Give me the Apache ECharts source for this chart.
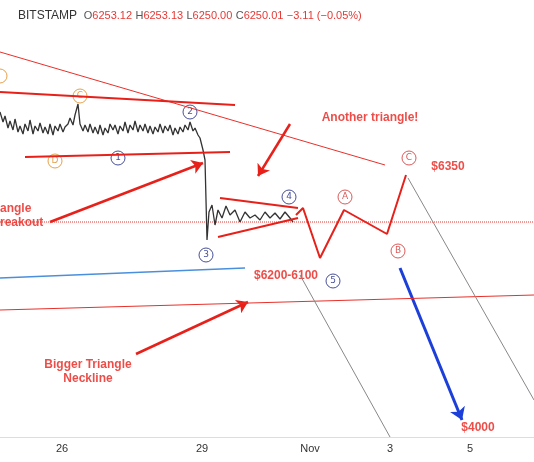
<!DOCTYPE html><html><head><meta charset="utf-8">
<script src="https://cdn.jsdelivr.net/npm/echarts@6/dist/echarts.min.js"></script>
<style>html,body{margin:0;padding:0;background:#fff}#c{width:534px;height:462px}</style></head><body><div id="c"></div>
<script>
// chart units: x = horizontal position, y = vertical level (top = 0)
const tickValues=[62,202,310,390,470];
const tickLabels=['26','29','Nov','3','5'];
const price=[[0,112],[3,122],[5,116],[8,128],[10,121],[13,130],[15,119],[18,132],[20,126],[23,134],[25,124],[28,131],[30,120],[33,134],[35,126],[38,131],[40,123],[43,133],[45,127],[48,134],[50,124],[53,135],[55,126],[58,131],[60,124],[63,132],[65,127],[68,124],[70,118],[73,125],[75,115],[78,104],[80,124],[83,131],[85,125],[88,132],[90,124],[93,133],[95,127],[98,134],[100,125],[103,135],[105,128],[108,133],[110,124],[113,130],[115,125],[118,134],[120,126],[123,131],[125,122],[128,133],[130,125],[133,130],[135,121],[138,132],[140,125],[143,131],[145,124],[148,133],[150,126],[153,134],[155,127],[158,132],[160,124],[163,133],[165,126],[168,131],[170,125],[173,135],[175,128],[178,134],[180,127],[183,132],[185,125],[188,130],[190,122],[193,131],[195,128],[198,135],[200,138],[203,150],[205,160],[206,200],[207,240],[209,212],[212,205],[215,225],[218,210],[222,218],[226,206],[230,215],[235,210],[240,222],[245,212],[250,218],[255,215],[260,220],[265,212],[270,218],[275,213],[280,219],[285,212],[290,218],[293,222]];
const thickRed=[
 [[0,92],[235,105]],
 [[25,157],[230,152]],
 [[220,198],[298,208]],
 [[218,237],[298,218]],
 [[296,215],[303,208],[320,258],[344,210],[387,234],[406,175]]
];
const thinRed=[[[0,52],[385,165]],[[0,310],[534,295]]];
const blueLine=[[0,278],[245,268]];
const grayLines=[[[300,275],[390,437]],[[408,178],[534,400]]];
const redArrows=[[[50,222],[203,163]],[[136,354],[248,302]],[[290,124],[258,176]]];
const blueArrow=[[400,268],[462,420]];
const waveNavy=[[118,158,'1'],[190,112,'2'],[206,255,'3'],[289,197,'4'],[333,281,'5']];
const waveOrange=[[80,96,'C'],[55,161,'D'],[0,76,'']];
const waveRed=[[345,197,'A'],[398,251,'B'],[409,158,'C']];
const notes=[[370,118,'Another triangle!'],[448,167,'$6350'],[286,276,'$6200-6100'],[88,372,'Bigger Triangle\nNeckline'],[478,428,'$4000']];
const series=[];
thinRed.forEach(d=>series.push({type:'line',data:d,symbol:'none',lineStyle:{color:'#e8302a',width:1},silent:true}));
series.push({type:'line',data:[[0,222],[534,222]],symbol:'none',lineStyle:{color:'#e8302a',width:1,type:'dotted'}});
series.push({type:'line',data:blueLine,symbol:'none',lineStyle:{color:'#4a8fdc',width:1.5}});
grayLines.forEach(d=>series.push({type:'line',data:d,symbol:'none',lineStyle:{color:'#888',width:1}}));
series.push({type:'line',data:price,symbol:'none',lineStyle:{color:'#333',width:1.3}});
thickRed.forEach(d=>series.push({type:'line',data:d,symbol:'none',lineStyle:{color:'#e8201a',width:2}}));
series.push({type:'lines',coordinateSystem:'cartesian2d',symbol:['none','arrow'],symbolSize:11,
 data:redArrows.map(c=>({coords:c})),lineStyle:{color:'#e8201a',width:2.5,opacity:1}});
series.push({type:'lines',coordinateSystem:'cartesian2d',symbol:['none','arrow'],symbolSize:12,
 data:[{coords:blueArrow}],lineStyle:{color:'#1b3fd8',width:3,opacity:1}});
function circles(arr,color){series.push({type:'scatter',data:arr,symbol:'circle',symbolSize:14,
 itemStyle:{color:'#fff',borderColor:color,borderWidth:1},
 label:{show:true,position:'inside',formatter:p=>p.data[2],color:color,fontSize:9,fontFamily:'DejaVu Sans'}});}
circles(waveNavy,'#1a237e');circles(waveOrange,'#e08a1e');circles(waveRed,'#d32f2f');
series.push({type:'scatter',data:notes,symbolSize:0,label:{show:true,position:'inside',formatter:p=>p.data[2],
 color:'#e8201a',fontWeight:'bold',fontSize:12,fontFamily:'Liberation Sans',lineHeight:14}});
series.push({type:'scatter',data:[[0,216,'angle\nreakout']],symbolSize:0,label:{show:true,position:'right',distance:0,
 formatter:p=>p.data[2],color:'#e8201a',fontWeight:'bold',fontSize:12,fontFamily:'Liberation Sans',lineHeight:14,backgroundColor:'#fff'}});
const chart=echarts.init(document.getElementById('c'));
chart.setOption({animation:false,
 grid:{left:0,right:0,top:0,bottom:25},
 xAxis:{type:'value',min:0,max:534,position:'bottom',splitLine:{show:false},axisLine:{onZero:false,lineStyle:{color:'#ddd'}},axisTick:{show:false},
  axisLabel:{customValues:tickValues,formatter:v=>tickLabels[tickValues.indexOf(v)]||'',color:'#333',fontSize:11,margin:6}},
 yAxis:{type:'value',min:0,max:437,inverse:true,show:false,splitLine:{show:false}},
 graphic:[{type:'text',left:18,top:10,style:{text:'{b|BITSTAMP}  {g|O}{r|6253.12} {g|H}{r|6253.13} {g|L}{r|6250.00} {g|C}{r|6250.01} {r|−3.11 (−0.05%)}',
  rich:{b:{fill:'#333',fontSize:12,fontFamily:'Liberation Sans'},g:{fill:'#555',fontSize:11,fontFamily:'Liberation Sans'},r:{fill:'#e53935',fontSize:11,fontFamily:'Liberation Sans'}}}}],
 series});
</script></body></html>
